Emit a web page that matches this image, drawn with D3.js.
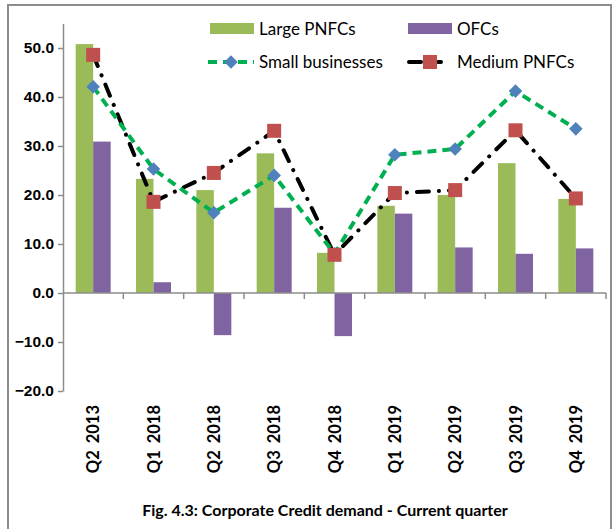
<!DOCTYPE html>
<html>
<head>
<meta charset="utf-8">
<script src="https://cdn.jsdelivr.net/npm/d3@7"></script>
<style>
  body { margin: 0; background: #fff; }
  svg { display: block; font-family: Lato, "Open Sans", sans-serif; }
</style>
</head>
<body>
<svg id="chart" width="616" height="529"></svg>
<script>
// data
var quarters = ["Q2 2013", "Q1 2018", "Q2 2018", "Q3 2018", "Q4 2018", "Q1 2019", "Q2 2019", "Q3 2019", "Q4 2019"]
var largePNFCs = [50.8, 23.3, 21.0, 28.5, 8.2, 17.8, 20.0, 26.5, 19.2]
var ofcs = [30.9, 2.2, -8.6, 17.4, -8.8, 16.2, 9.3, 8.0, 9.1]
var smallBusinesses = [42.1, 25.3, 16.4, 24.0, 8.0, 28.2, 29.4, 41.2, 33.5]
var mediumPNFCs = [48.6, 18.6, 24.5, 33.1, 7.8, 20.4, 21.0, 33.2, 19.3]
var yTicks = [-20, -10, 0, 10, 20, 30, 40, 50]

var colors = {large: "#9BBB59", ofc: "#8064A2", small: "#00B050", diamond: "#4F81BD", medium: "#C0504D"}

var svg = d3.select("#chart")

// outer frame
svg.append("rect")
    .attr("x", 8).attr("y", 5)
    .attr("width", 603).attr("height", 540)
    .attr("fill", "none")
    .attr("stroke", "#8c8c8c")
    .attr("stroke-width", 2)

var plotLeft = 63, plotRight = 606, plotTop = 23.5, plotBottom = 391

var x = d3.scaleBand()
    .domain(quarters)
    .range([plotLeft, plotRight])

var y = d3.scaleLinear()
    .domain([-20, 55])
    .range([plotBottom, plotTop])

var barW = x.bandwidth() * 0.29

// y axis
var yAxis = svg.append("g")
    .attr("transform", `translate(${plotLeft},0)`)
    .call(d3.axisLeft(y).tickValues(yTicks).tickFormat(d3.format(".1f")).tickSize(5).tickSizeOuter(0))
yAxis.select(".domain").attr("stroke", "#8c8c8c").attr("stroke-width", 1.5)
yAxis.selectAll(".tick line").attr("stroke", "#8c8c8c").attr("stroke-width", 1.5)
yAxis.selectAll(".tick text")
    .attr("x", -9)
    .attr("fill", "#000")
    .style("font-size", "15.5px")
    .style("font-weight", "bold")

// bars
var groups = svg.append("g").selectAll("g")
    .data(quarters)
    .join("g")

groups.append("rect")
    .attr("x", (d) => x(d) + x.bandwidth() / 2 - barW)
    .attr("width", barW)
    .attr("y", (d, i) => y(Math.max(0, largePNFCs[i])))
    .attr("height", (d, i) => Math.abs(y(largePNFCs[i]) - y(0)))
    .attr("fill", colors.large)

groups.append("rect")
    .attr("x", (d) => x(d) + x.bandwidth() / 2)
    .attr("width", barW)
    .attr("y", (d, i) => y(Math.max(0, ofcs[i])))
    .attr("height", (d, i) => Math.abs(y(ofcs[i]) - y(0)))
    .attr("fill", colors.ofc)

// x axis at zero
var xAxis = svg.append("g")
    .attr("transform", `translate(0,${y(0)})`)
xAxis.append("line")
    .attr("x1", plotLeft).attr("x2", plotRight)
    .attr("stroke", "#8c8c8c").attr("stroke-width", 1.5)
xAxis.selectAll(".tk")
    .data(quarters)
    .join("line")
    .attr("class", "tk")
    .attr("x1", (d) => x(d) + x.bandwidth()).attr("x2", (d) => x(d) + x.bandwidth())
    .attr("y1", 0).attr("y2", 6)
    .attr("stroke", "#8c8c8c").attr("stroke-width", 1.5)

// x labels, rotated
svg.append("g").selectAll("text")
    .data(quarters)
    .join("text")
    .attr("transform", (d) => `translate(${x(d) + x.bandwidth() / 2 + 6},405) rotate(-90)`)
    .attr("text-anchor", "end")
    .style("font-size", "16.5px")
    .style("font-weight", "bold")
    .style("word-spacing", "3px")
    .text((d) => d)

var cx = (d, i) => x(quarters[i]) + x.bandwidth() / 2

// lines
var seriesLine = d3.line().x((d, i) => cx(d, i)).y((d) => y(d))
svg.append("path")
    .datum(mediumPNFCs)
    .attr("d", seriesLine)
    .attr("fill", "none")
    .attr("stroke", "#000")
    .attr("stroke-width", 4)
    .attr("stroke-linecap", "round")
    .attr("stroke-dasharray", "12,10,0.1,10")

svg.append("path")
    .datum(smallBusinesses)
    .attr("d", seriesLine)
    .attr("fill", "none")
    .attr("stroke", colors.small)
    .attr("stroke-width", 4)
    .attr("stroke-dasharray", "9,6")

// markers
svg.append("g").selectAll("rect")
    .data(smallBusinesses)
    .join("rect")
    .attr("x", -4.8).attr("y", -4.8)
    .attr("width", 9.6).attr("height", 9.6)
    .attr("transform", (d, i) => `translate(${cx(d, i)},${y(d)}) rotate(45)`)
    .attr("fill", colors.diamond)

svg.append("g").selectAll("rect")
    .data(mediumPNFCs)
    .join("rect")
    .attr("x", (d, i) => cx(d, i) - 7)
    .attr("y", (d) => y(d) - 7)
    .attr("width", 14).attr("height", 14)
    .attr("fill", colors.medium)

// legend
var legend = svg.append("g").style("font-size", "17px")

legend.append("rect").attr("x", 210).attr("y", 23).attr("width", 44).attr("height", 11).attr("fill", colors.large)
legend.append("text").attr("x", 259).attr("y", 35).text("Large PNFCs")
legend.append("rect").attr("x", 408).attr("y", 23).attr("width", 44).attr("height", 11).attr("fill", colors.ofc)
legend.append("text").attr("x", 457).attr("y", 35).text("OFCs")

legend.append("line").attr("x1", 208).attr("x2", 254).attr("y1", 62).attr("y2", 62)
    .attr("stroke", colors.small).attr("stroke-width", 4).attr("stroke-dasharray", "9,6")
legend.append("rect").attr("x", -4.8).attr("y", -4.8).attr("width", 9.6).attr("height", 9.6)
    .attr("transform", "translate(231,62) rotate(45)").attr("fill", colors.diamond)
legend.append("text").attr("x", 259).attr("y", 68).text("Small businesses")

legend.append("line").attr("x1", 409).attr("x2", 441).attr("y1", 62).attr("y2", 62)
    .attr("stroke", "#000").attr("stroke-width", 4).attr("stroke-linecap", "round")
    .attr("stroke-dasharray", "12,8,0.1,9")
legend.append("rect").attr("x", 423).attr("y", 55).attr("width", 14).attr("height", 14).attr("fill", colors.medium)
legend.append("text").attr("x", 457).attr("y", 68).text("Medium PNFCs")

// title
svg.append("text")
    .attr("x", 325).attr("y", 516)
    .attr("text-anchor", "middle")
    .style("font-size", "16px")
    .style("font-weight", "bold")
    .text("Fig. 4.3: Corporate Credit demand - Current quarter")
</script>
</body>
</html>
